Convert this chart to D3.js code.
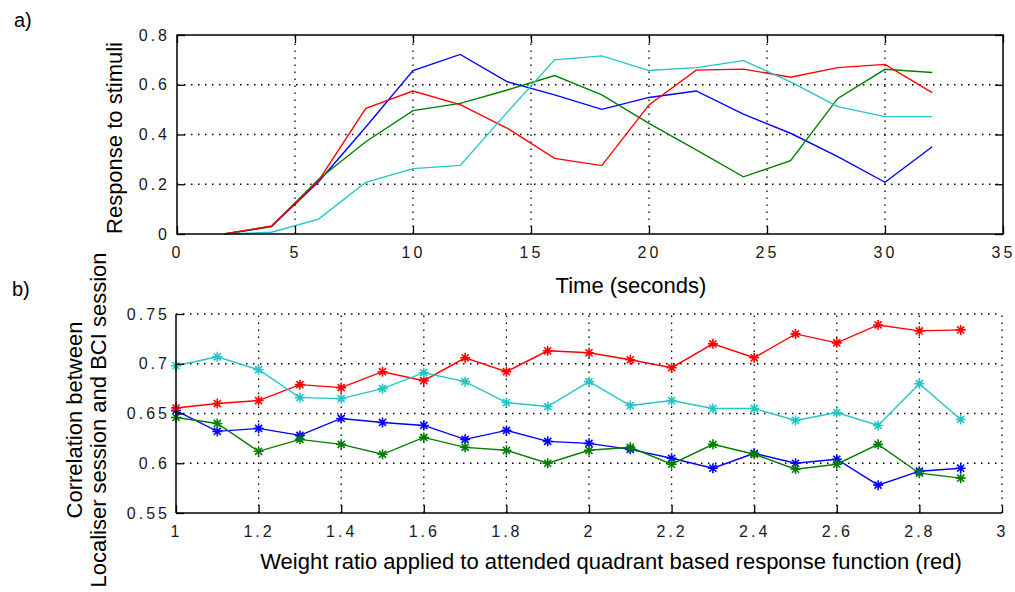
<!DOCTYPE html>
<html>
<head>
<meta charset="utf-8">
<script src="https://cdn.jsdelivr.net/npm/d3@7"></script>
<style>
    body { margin: 0; background: #fff; }
    svg { display: block; font-family: "Liberation Sans", Arial, sans-serif; }
    .tick text { font-size: 16px; fill: #1a1a1a; letter-spacing: 3px; }
    .tick line { stroke: #000; stroke-width: 1.3; }
    .domain { display: none; }
    .grid line { stroke: #000; stroke-width: 1.3; stroke-dasharray: 1.5,5.5; }
    .title { font-size: 22px; fill: #000; }
</style>
</head>
<body>
<svg id="chart" width="1015" height="592"></svg>
<script>
// a) response curves
const timeSec = [2, 4, 6, 8, 10, 12, 14, 16, 18, 20, 22, 24, 26, 28, 30, 32];
const respBlue  = [0, 0.03, 0.21, 0.43, 0.657, 0.722, 0.612, 0.559, 0.501, 0.549, 0.575, 0.482, 0.405, 0.311, 0.208, 0.351];
const respGreen = [0, 0.03, 0.22, 0.371, 0.496, 0.525, 0.579, 0.637, 0.559, 0.445, 0.338, 0.23, 0.295, 0.545, 0.662, 0.649];
const respRed   = [0, 0.032, 0.215, 0.505, 0.575, 0.52, 0.425, 0.304, 0.275, 0.519, 0.659, 0.663, 0.63, 0.669, 0.682, 0.568];
const respCyan  = [0, 0.007, 0.06, 0.208, 0.263, 0.276, 0.49, 0.70, 0.716, 0.657, 0.669, 0.697, 0.612, 0.512, 0.472, 0.472];
const timeTicks = [0, 5, 10, 15, 20, 25, 30, 35];
const respTicks = [0, 0.2, 0.4, 0.6, 0.8];

// b) correlation vs weight ratio
const weightRatio = [1, 1.1, 1.2, 1.3, 1.4, 1.5, 1.6, 1.7, 1.8, 1.9, 2, 2.1, 2.2, 2.3, 2.4, 2.5, 2.6, 2.7, 2.8, 2.9];
const corrBlue  = [0.653, 0.632, 0.635, 0.628, 0.645, 0.641, 0.638, 0.624, 0.633, 0.622, 0.620, 0.614, 0.605, 0.595, 0.610, 0.600, 0.604, 0.578, 0.592, 0.595];
const corrGreen = [0.646, 0.640, 0.612, 0.624, 0.619, 0.609, 0.626, 0.616, 0.613, 0.600, 0.613, 0.616, 0.599, 0.619, 0.609, 0.594, 0.599, 0.619, 0.590, 0.585];
const corrRed   = [0.6555, 0.660, 0.663, 0.679, 0.676, 0.692, 0.683, 0.706, 0.692, 0.713, 0.711, 0.704, 0.696, 0.720, 0.706, 0.730, 0.721, 0.739, 0.733, 0.734];
const corrCyan  = [0.698, 0.707, 0.694, 0.666, 0.665, 0.675, 0.691, 0.682, 0.661, 0.657, 0.682, 0.658, 0.663, 0.655, 0.655, 0.643, 0.651, 0.638, 0.680, 0.644];
const ratioTicks = [1, 1.2, 1.4, 1.6, 1.8, 2, 2.2, 2.4, 2.6, 2.8, 3];
const corrTicks = [0.55, 0.6, 0.65, 0.7, 0.75];

const colors = { blue: "#0000ff", green: "#008000", red: "#ff0000", cyan: "#22c6c6" };

const svg = d3.select("#chart");

// ---------- panel a ----------
const xa = d3.scaleLinear().domain([0, 35]).range([177, 1003]);
const ya = d3.scaleLinear().domain([0, 0.8]).range([234, 35]);

const ga = svg.append("g");

ga.append("g").attr("class", "grid")
    .selectAll("line").data(timeTicks.filter(t => t > 0 && t < 35)).enter().append("line")
    .attr("x1", d => xa(d)).attr("x2", d => xa(d))
    .attr("y1", ya(0)).attr("y2", ya(0.8));
ga.append("g").attr("class", "grid")
    .selectAll("line").data(respTicks.filter(t => t > 0 && t < 0.8)).enter().append("line")
    .attr("x1", xa(0)).attr("x2", xa(35))
    .attr("y1", d => ya(d)).attr("y2", d => ya(d));

const lineA = d3.line().x((d, i) => xa(timeSec[i])).y(d => ya(d));
[[respBlue, "blue"], [respGreen, "green"], [respRed, "red"], [respCyan, "cyan"]].forEach(([vals, c]) => {
    ga.append("path").attr("d", lineA(vals))
        .attr("fill", "none").attr("stroke", colors[c]).attr("stroke-width", 1.4);
});

ga.append("rect")
    .attr("x", xa(0)).attr("y", ya(0.8))
    .attr("width", xa(35) - xa(0)).attr("height", ya(0) - ya(0.8))
    .attr("fill", "none").attr("stroke", "#000").attr("stroke-width", 1.5);

ga.append("g").attr("transform", `translate(0,${ya(0)})`)
    .call(d3.axisBottom(xa).tickValues(timeTicks).tickFormat(d3.format("d"))
        .tickSizeInner(-8).tickSizeOuter(0).tickPadding(13));
ga.append("g").attr("transform", `translate(0,${ya(0.8)})`)
    .call(d3.axisTop(xa).tickValues(timeTicks).tickFormat("").tickSizeInner(-8).tickSizeOuter(0));
ga.append("g").attr("transform", `translate(${xa(0)},0)`)
    .call(d3.axisLeft(ya).tickValues(respTicks).tickFormat(d => d === 0 ? "0" : d3.format(".1f")(d))
        .tickSizeInner(-8).tickSizeOuter(0).tickPadding(7));
ga.append("g").attr("transform", `translate(${xa(35)},0)`)
    .call(d3.axisRight(ya).tickValues(respTicks).tickFormat("").tickSizeInner(-8).tickSizeOuter(0));

ga.append("text").attr("class", "title")
    .attr("x", 631).attr("y", 293).attr("text-anchor", "middle")
    .text("Time (seconds)");
ga.append("text").attr("class", "title")
    .attr("transform", "translate(122,138) rotate(-90)").attr("text-anchor", "middle")
    .text("Response to stimuli");
ga.append("text").attr("class", "title")
    .attr("x", 14).attr("y", 27).style("font-size", "20px")
    .text("a)");

// ---------- panel b ----------
const xb = d3.scaleLinear().domain([1, 3]).range([176, 1002]);
const yb = d3.scaleLinear().domain([0.55, 0.75]).range([513, 314]);

const gb = svg.append("g");

gb.append("g").attr("class", "grid")
    .selectAll("line").data(ratioTicks.filter(t => t > 1)).enter().append("line")
    .attr("x1", d => xb(d)).attr("x2", d => xb(d))
    .attr("y1", yb(0.55)).attr("y2", yb(0.75));
gb.append("g").attr("class", "grid")
    .selectAll("line").data(corrTicks.filter(t => t > 0.55)).enter().append("line")
    .attr("x1", xb(1)).attr("x2", xb(3))
    .attr("y1", d => yb(d)).attr("y2", d => yb(d));

// MATLAB-like '*' marker
const star = (r) => {
    const p = d3.path();
    const k = r * Math.SQRT1_2;
    p.moveTo(-r, 0); p.lineTo(r, 0);
    p.moveTo(0, -r); p.lineTo(0, r);
    p.moveTo(-k, -k); p.lineTo(k, k);
    p.moveTo(-k, k); p.lineTo(k, -k);
    return p.toString();
};

const lineB = d3.line().x((d, i) => xb(weightRatio[i])).y(d => yb(d));
[[corrBlue, "blue"], [corrGreen, "green"], [corrRed, "red"], [corrCyan, "cyan"]].forEach(([vals, c]) => {
    gb.append("path").attr("d", lineB(vals))
        .attr("fill", "none").attr("stroke", colors[c]).attr("stroke-width", 1.4);
    gb.append("g").selectAll("path").data(vals).enter().append("path")
        .attr("transform", (d, i) => `translate(${xb(weightRatio[i])},${yb(d)})`)
        .attr("d", star(5))
        .attr("fill", "none").attr("stroke", colors[c]).attr("stroke-width", 1.6);
});

gb.append("g").attr("transform", `translate(0,${yb(0.55)})`)
    .call(d3.axisBottom(xb).tickValues(ratioTicks).tickFormat(d => d3.format("~g")(d))
        .tickSizeInner(-8).tickSizeOuter(0).tickPadding(13));
gb.append("g").attr("transform", `translate(${xb(1)},0)`)
    .call(d3.axisLeft(yb).tickValues(corrTicks).tickFormat(d => d3.format("~g")(d))
        .tickSizeInner(-8).tickSizeOuter(0).tickPadding(6));

gb.append("line")
    .attr("x1", xb(1)).attr("x2", xb(3)).attr("y1", yb(0.55)).attr("y2", yb(0.55))
    .attr("stroke", "#000").attr("stroke-width", 1.5);
gb.append("line")
    .attr("x1", xb(1)).attr("x2", xb(1)).attr("y1", yb(0.55)).attr("y2", yb(0.75))
    .attr("stroke", "#000").attr("stroke-width", 1.5);

gb.append("text").attr("class", "title")
    .attr("x", 611).attr("y", 569).attr("text-anchor", "middle")
    .text("Weight ratio applied to attended quadrant based response function (red)");
gb.append("text").attr("class", "title")
    .attr("transform", "translate(82,420) rotate(-90)").attr("text-anchor", "middle")
    .text("Correlation between");
gb.append("text").attr("class", "title")
    .attr("transform", "translate(106,420) rotate(-90)").attr("text-anchor", "middle")
    .text("Localiser session and BCI session");
gb.append("text").attr("class", "title")
    .attr("x", 12).attr("y", 296).style("font-size", "20px")
    .text("b)");
</script>
</body>
</html>
